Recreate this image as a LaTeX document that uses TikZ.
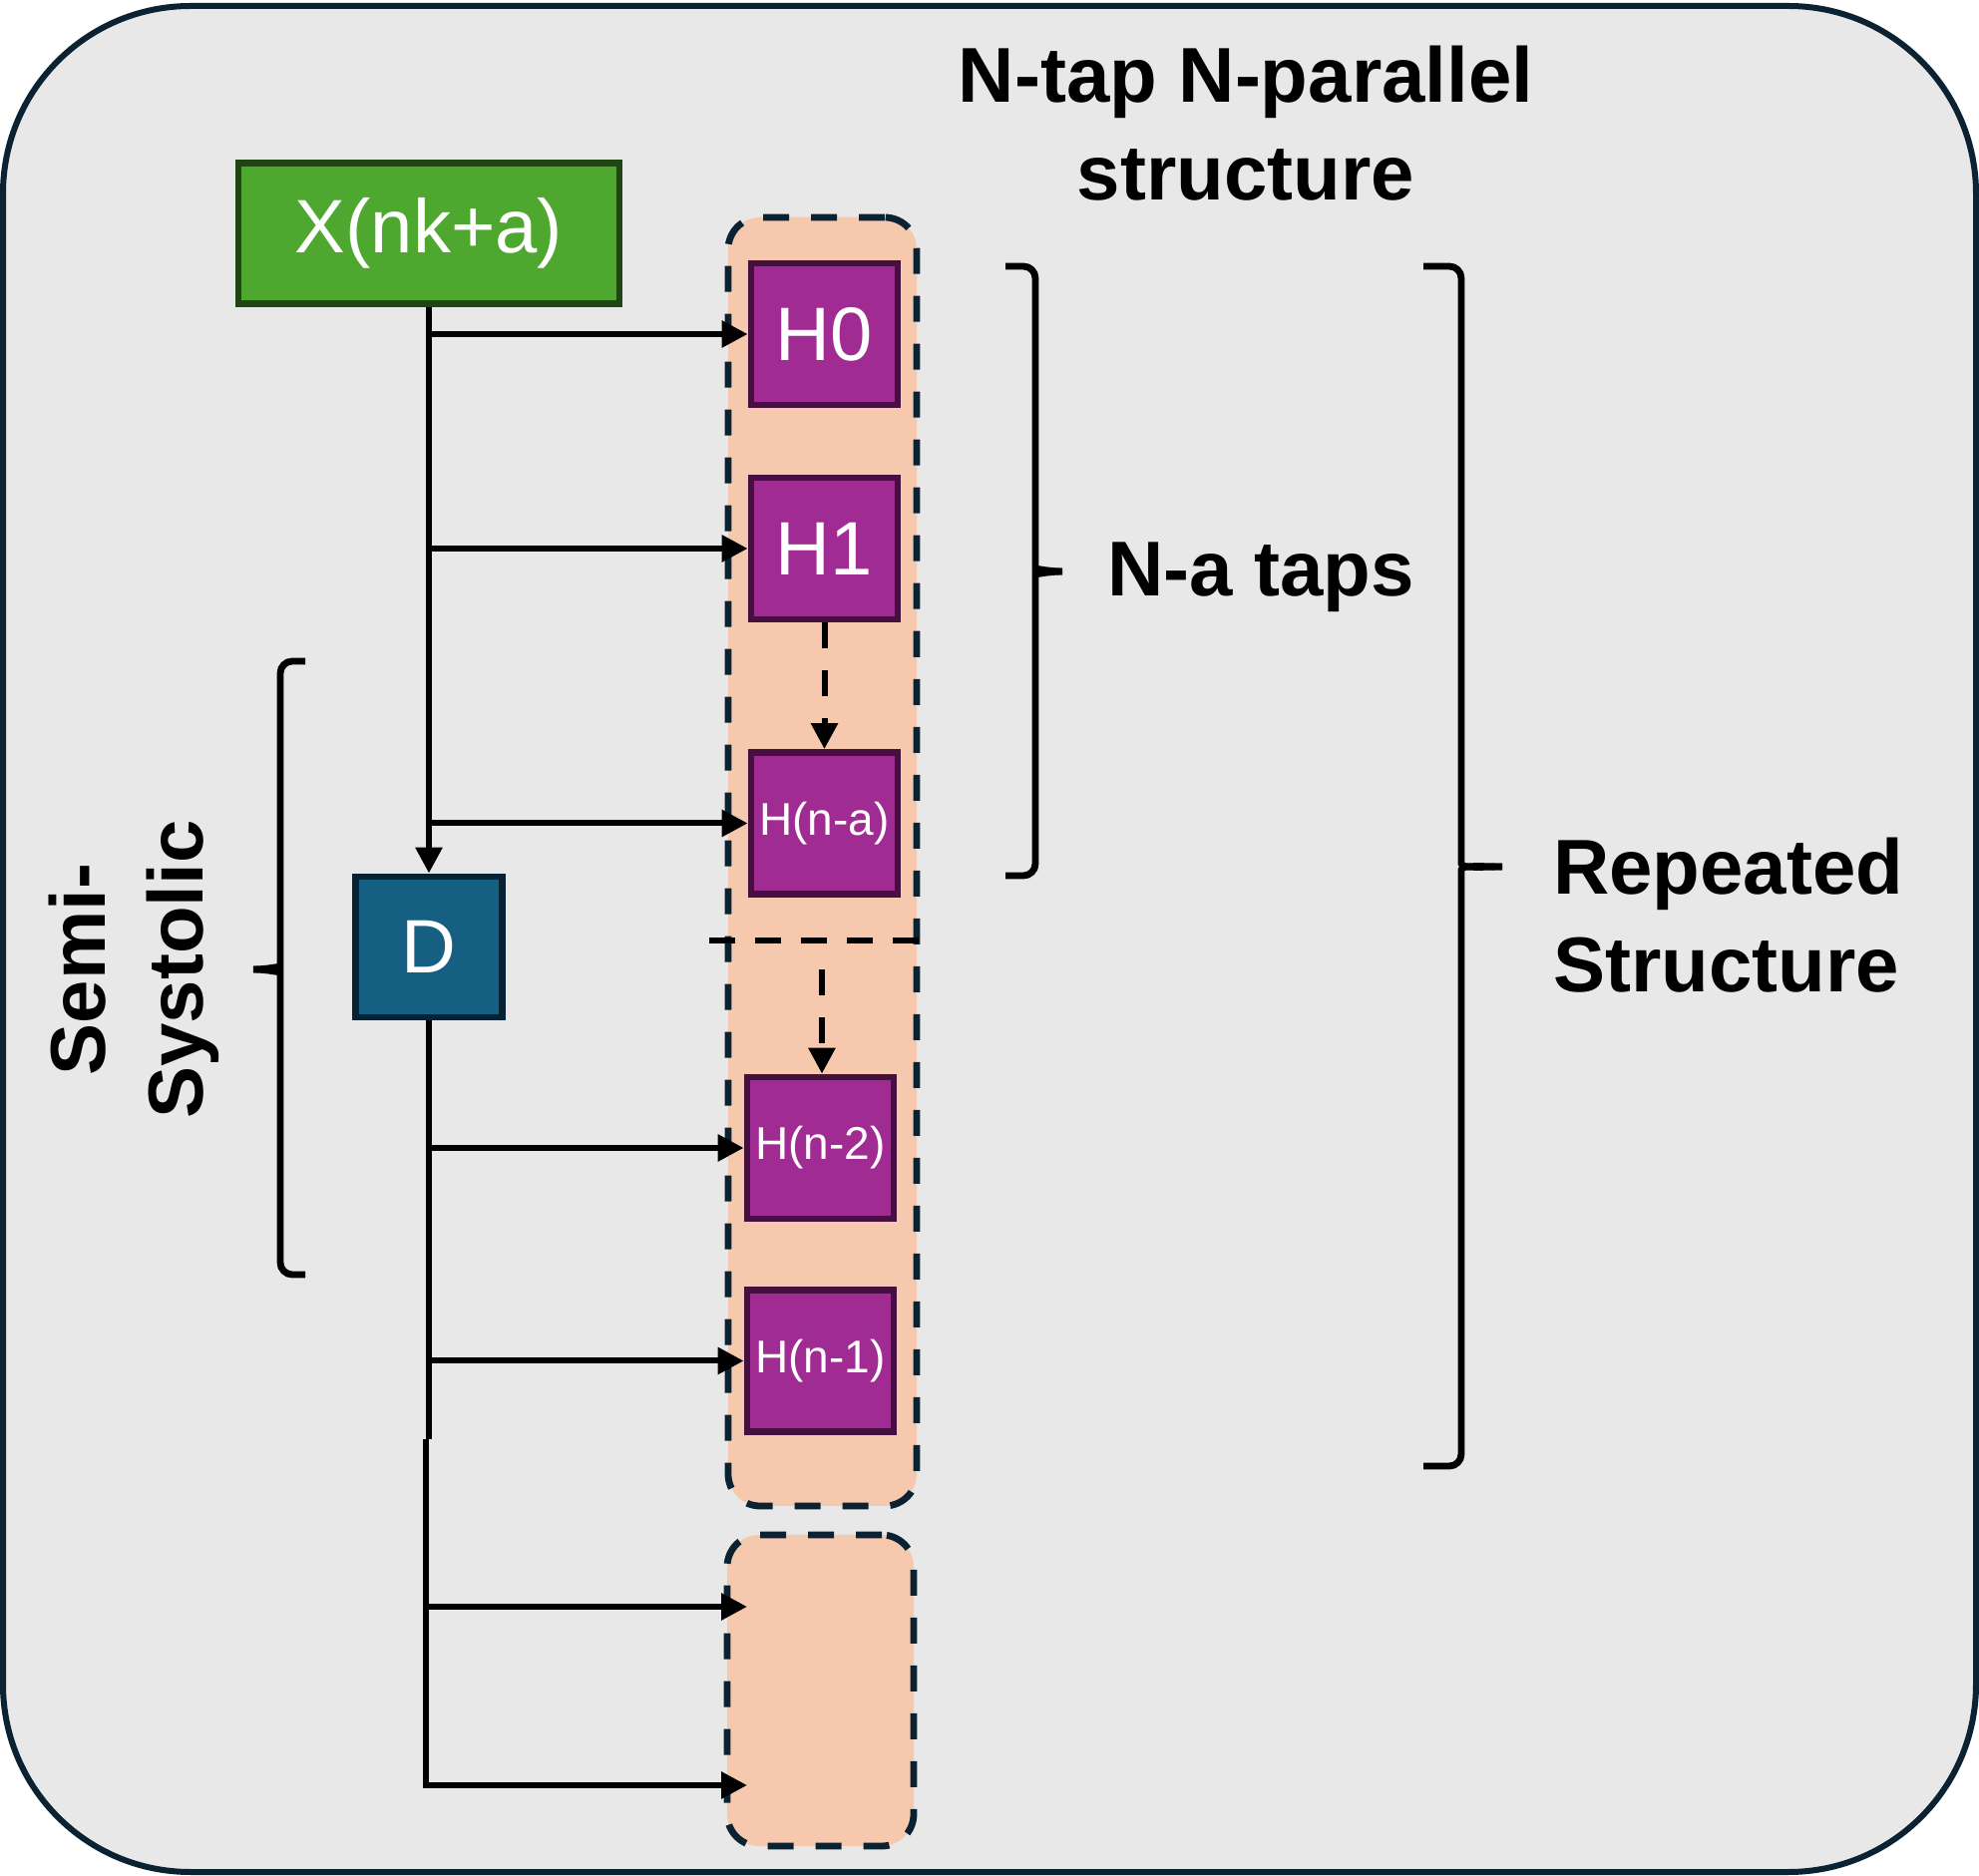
\documentclass[tikz,border=0pt]{standalone}
\usepackage{fontspec}
\setmainfont{Liberation Sans}
\usepackage{xcolor}
\usepackage{tikz}
\usetikzlibrary{arrows.meta,positioning,calc}
\definecolor{panelgray}{HTML}{E8E8E8}
\definecolor{navyline}{HTML}{0A2232}
\definecolor{peach}{HTML}{F6C8AE}
\definecolor{tapviolet}{HTML}{A02B93}
\definecolor{tapedge}{HTML}{45103F}
\definecolor{ingreen}{HTML}{4EA72E}
\definecolor{inedge}{HTML}{1E4512}
\definecolor{dlyblue}{HTML}{156082}
\definecolor{dlyedge}{HTML}{062233}

\begin{document}
\begin{tikzpicture}[
  x=0.25pt, y=-0.25pt,
  box/.style={draw, line width=1.7pt, text=white, inner sep=0pt},
  tap/.style={box, fill=tapviolet, draw=tapedge, minimum width=36.75pt, minimum height=35.5pt,
    font=\fontsize{19}{22}\selectfont},
  smalltap/.style={tap, font=\fontsize{11.5}{13}\selectfont},
  grp/.style={draw=navyline, fill=peach, line width=1.7pt, rounded corners=8pt,
    dash pattern=on 6.5pt off 5.5pt},
  lbl/.style={font=\bfseries\fontsize{19.5}{24.5}\selectfont, align=center},
  arr/.style={-{Triangle[length=6.5pt,width=6.5pt]}, line width=1.5pt},
  darr/.style={arr, dash pattern=on 6.5pt off 5.5pt},
  brk/.style={line width=1.7pt, rounded corners=3pt}]
\useasboundingbox (0,0) rectangle (1984,1881);
\draw[fill=panelgray, draw=navyline, line width=1.5pt, rounded corners=47pt]
  (3,6) rectangle (1981,1877);
% tap columns
\node[grp, minimum width=47.25pt, minimum height=323pt] (colA) at (824.5,864) {};
\node[grp, minimum width=46.75pt, minimum height=78pt] (colB) at (822.5,1695) {};
% input and delay
\node[box, fill=ingreen, draw=inedge, minimum width=95.5pt, minimum height=35.25pt,
  font=\fontsize{19}{22}\selectfont] (xin) at (430,234) {X(nk+a)};
\node[box, fill=dlyblue, draw=dlyedge, minimum width=36.75pt, minimum height=35.25pt,
  font=\fontsize{19}{22}\selectfont] (dly) at (430,949.5) {D};
% taps
\node[tap] (h0) at (826.5,335) {H0};
\node[tap] (h1) at (826.5,550) {H1};
\node[smalltap] (hna) at (826.5,825.5) {H(n-a)};
\node[smalltap] (hn2) at (822.5,1151) {H(n-2)};
\node[smalltap] (hn1) at (822.5,1364.5) {H(n-1)};
\coordinate (cut) at (711,943);
\coordinate (cutEnd) at (930,943);
\coordinate (dfrom) at (824,972);
\coordinate (jog) at (427,1443);
\coordinate (nx1) at (749,1611);
\coordinate (nx2) at (749,1790);
% feed lines
\draw[arr] (xin.south) -- (dly.north);
\draw[line width=1.5pt] (dly.south) -- (dly.south |- jog);
\draw[arr] (jog) |- (nx2);
\foreach \t in {h0,h1,hna,hn2,hn1}
  \draw[arr] (xin.south |- \t) -- (\t.west);
\draw[arr] (xin.south |- nx1) -- (nx1);
\draw[darr] (h1.south) -- (hna.north);
\draw[line width=1.5pt, dash pattern=on 6.5pt off 5pt] (cut) -- (cutEnd);
\draw[darr] (dfrom) -- (dfrom |- hn2.north);
% braces
\draw[brk] (1008,267) -| (1038,558) to[out=-90,in=180] (1065,573);
\draw[brk] (1008,878) -| (1038,588) to[out=90,in=180] (1065,573);
\draw[brk] (1427,267) -| (1465,854) to[out=-90,in=180] (1506,869);
\draw[brk] (1427,1470) -| (1465,884) to[out=90,in=180] (1506,869);
\draw[brk] (306,663) -| (281,957) to[out=-90,in=0] (254,972);
\draw[brk] (306,1278) -| (281,987) to[out=90,in=0] (254,972);
% labels
\node[lbl] (title) at (1249,124) {N-tap N-parallel\\structure};
\node[lbl] (natap) at (1264,579) {N-a taps};
\node[lbl, align=left, anchor=west] (rep) at (1543,918) {Repeated\\Structure};
\node[lbl, rotate=90] (semi) at (134,972) {Semi-\\Systolic};
\end{tikzpicture}
\end{document}
